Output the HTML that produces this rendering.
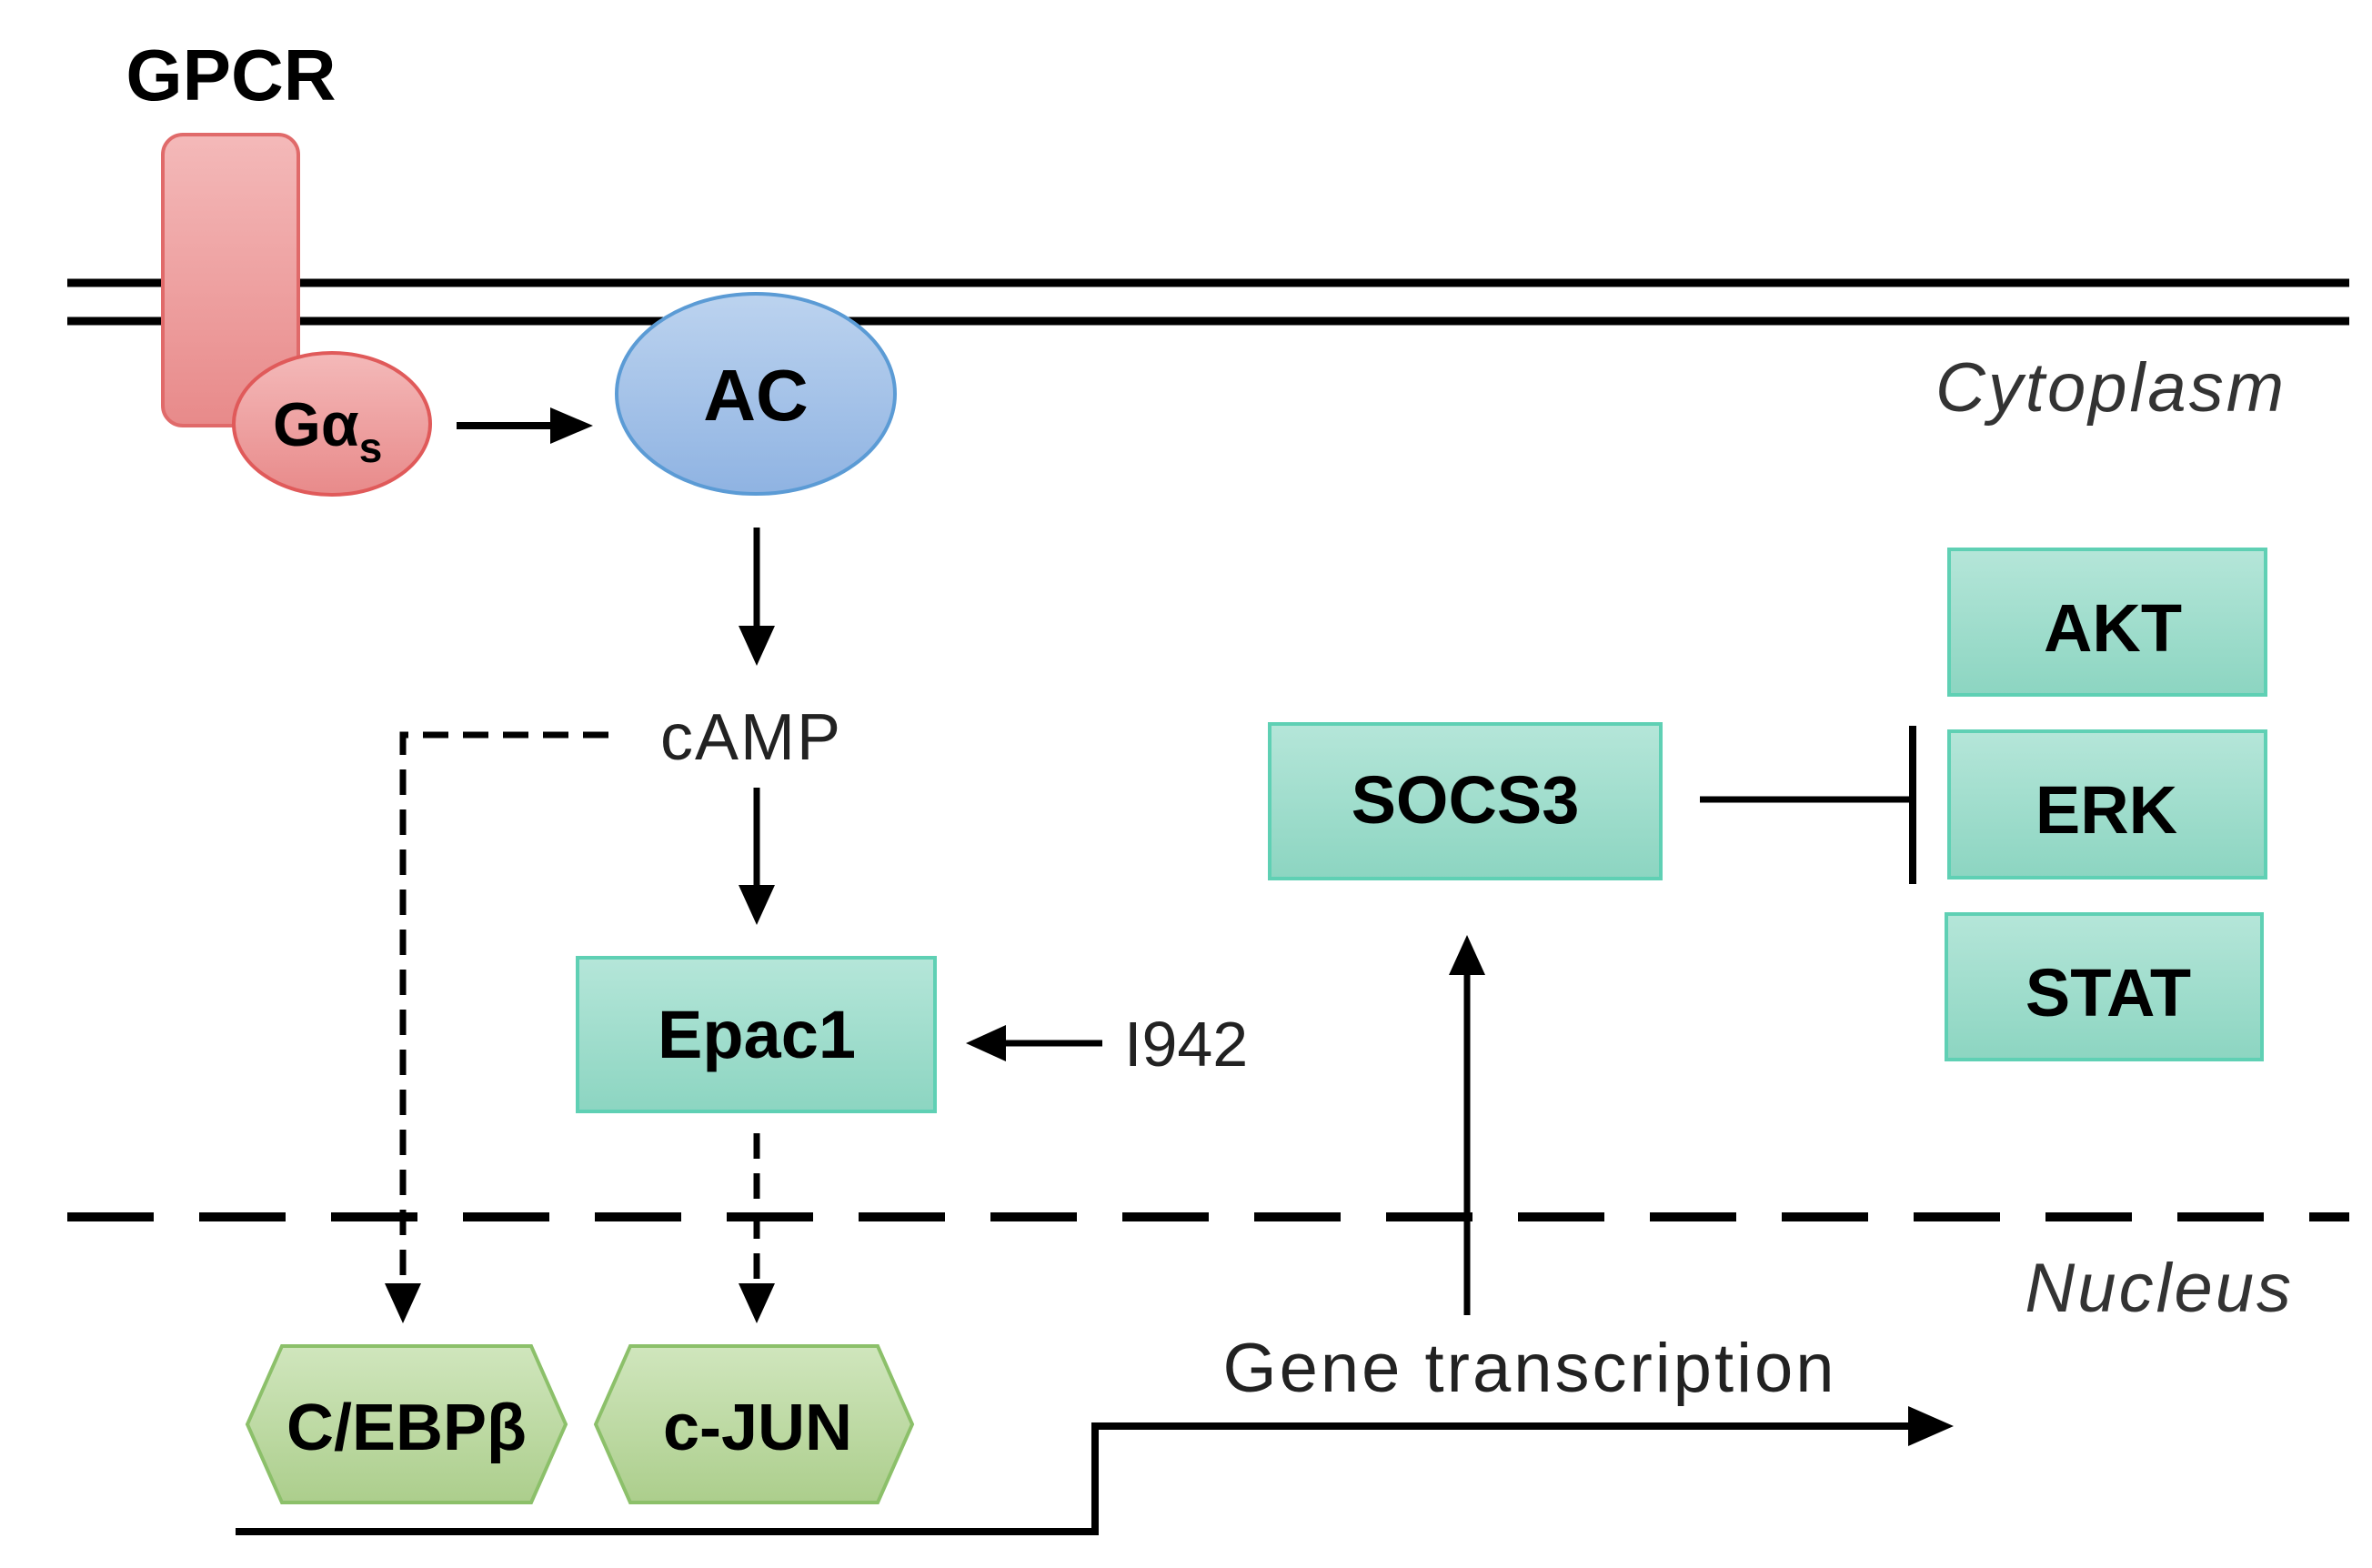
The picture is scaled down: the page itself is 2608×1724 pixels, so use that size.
<!DOCTYPE html>
<html><head><meta charset="utf-8"><style>html,body{margin:0;padding:0;background:#fff}svg{display:block}</style></head>
<body>
<svg width="2608" height="1724" viewBox="0 0 2608 1724" xmlns="http://www.w3.org/2000/svg" font-family="Liberation Sans, sans-serif">
<defs>
<linearGradient id="pk" x1="0" y1="0" x2="0" y2="1"><stop offset="0" stop-color="#f4b9b9"/><stop offset="1" stop-color="#e88a8a"/></linearGradient>
<linearGradient id="bl" x1="0" y1="0" x2="0" y2="1"><stop offset="0" stop-color="#bcd3ef"/><stop offset="1" stop-color="#8fb3e2"/></linearGradient>
<linearGradient id="tl" x1="0" y1="0" x2="0" y2="1"><stop offset="0" stop-color="#b5e6d9"/><stop offset="1" stop-color="#8cd5c1"/></linearGradient>
<linearGradient id="gr" x1="0" y1="0" x2="0" y2="1"><stop offset="0" stop-color="#d0e6bd"/><stop offset="1" stop-color="#acce8c"/></linearGradient>
</defs>
<line x1="74" y1="311" x2="2583" y2="311" stroke="#000" stroke-width="9"/>
<line x1="74" y1="353" x2="2583" y2="353" stroke="#000" stroke-width="9"/>
<text x="254" y="110" font-size="80" font-weight="bold" text-anchor="middle">GPCR</text>
<rect x="179" y="148" width="149" height="320" rx="22" fill="url(#pk)" stroke="#e06a6a" stroke-width="4"/>
<ellipse cx="365" cy="466" rx="108" ry="78" fill="url(#pk)" stroke="#e05a5a" stroke-width="4"/>
<text x="300" y="490" font-size="68" font-weight="bold">Gα<tspan font-size="46" dy="18">s</tspan></text>
<line x1="502" y1="468" x2="610" y2="468" stroke="#000" stroke-width="8"/>
<polygon points="652,468 605,448 605,488"/>
<ellipse cx="831" cy="433" rx="153" ry="110" fill="url(#bl)" stroke="#5b9bd5" stroke-width="4"/>
<text x="831" y="462" font-size="80" font-weight="bold" text-anchor="middle">AC</text>
<line x1="832" y1="580" x2="832" y2="690" stroke="#000" stroke-width="7"/>
<polygon points="832,732 812,688 852,688"/>
<text x="826" y="835" font-size="72" fill="#222" text-anchor="middle" letter-spacing="2">cAMP</text>
<line x1="832" y1="866" x2="832" y2="975" stroke="#000" stroke-width="7"/>
<polygon points="832,1017 812,973 852,973"/>
<path d="M669,808 L443,808 L443,1410" fill="none" stroke="#000" stroke-width="7" stroke-dasharray="28,16"/>
<polygon points="443,1455 423,1411 463,1411"/>
<rect x="635" y="1053" width="393" height="169" fill="url(#tl)" stroke="#5fd0b4" stroke-width="4"/>
<text x="832" y="1163" font-size="74" font-weight="bold" text-anchor="middle">Epac1</text>
<line x1="1212" y1="1147" x2="1100" y2="1147" stroke="#000" stroke-width="7"/>
<polygon points="1062,1147 1106,1127 1106,1167"/>
<text x="1236" y="1172" font-size="70" fill="#222">I942</text>
<path d="M832,1246 L832,1410" fill="none" stroke="#000" stroke-width="7" stroke-dasharray="28,16"/>
<polygon points="832,1455 812,1411 852,1411"/>
<line x1="74" y1="1338" x2="2583" y2="1338" stroke="#000" stroke-width="10" stroke-dasharray="95,50"/>
<polygon points="272,1566 310,1480 584,1480 622,1566 584,1652 310,1652" fill="url(#gr)" stroke="#8cc06a" stroke-width="4"/>
<text x="447" y="1594" font-size="72" font-weight="bold" text-anchor="middle">C/EBPβ</text>
<polygon points="655,1566 693,1480 965,1480 1003,1566 965,1652 693,1652" fill="url(#gr)" stroke="#8cc06a" stroke-width="4"/>
<text x="833" y="1594" font-size="72" font-weight="bold" text-anchor="middle">c-JUN</text>
<path d="M259,1684 L1204,1684 L1204,1568 L2105,1568" fill="none" stroke="#000" stroke-width="8"/>
<polygon points="2148,1568 2098,1546 2098,1590"/>
<text x="1682" y="1530" font-size="76" fill="#222" text-anchor="middle" letter-spacing="3">Gene transcription</text>
<line x1="1613" y1="1446" x2="1613" y2="1070" stroke="#000" stroke-width="7"/>
<polygon points="1613,1028 1593,1072 1633,1072"/>
<rect x="1396" y="796" width="430" height="170" fill="url(#tl)" stroke="#5fd0b4" stroke-width="4"/>
<text x="1611" y="905" font-size="74" font-weight="bold" text-anchor="middle">SOCS3</text>
<line x1="1869" y1="879" x2="2103" y2="879" stroke="#000" stroke-width="7"/>
<line x1="2103" y1="798" x2="2103" y2="972" stroke="#000" stroke-width="8"/>
<rect x="2143" y="604" width="348" height="160" fill="url(#tl)" stroke="#5fd0b4" stroke-width="4"/>
<text x="2323" y="716" font-size="74" font-weight="bold" text-anchor="middle">AKT</text>
<rect x="2143" y="804" width="348" height="161" fill="url(#tl)" stroke="#5fd0b4" stroke-width="4"/>
<text x="2316" y="916" font-size="74" font-weight="bold" text-anchor="middle">ERK</text>
<rect x="2140" y="1005" width="347" height="160" fill="url(#tl)" stroke="#5fd0b4" stroke-width="4"/>
<text x="2318" y="1117" font-size="74" font-weight="bold" text-anchor="middle">STAT</text>
<text x="2514" y="452" font-size="76" font-style="italic" fill="#333" text-anchor="end" letter-spacing="3">Cytoplasm</text>
<text x="2522" y="1442" font-size="76" font-style="italic" fill="#333" text-anchor="end" letter-spacing="3">Nucleus</text>
</svg>
</body></html>
